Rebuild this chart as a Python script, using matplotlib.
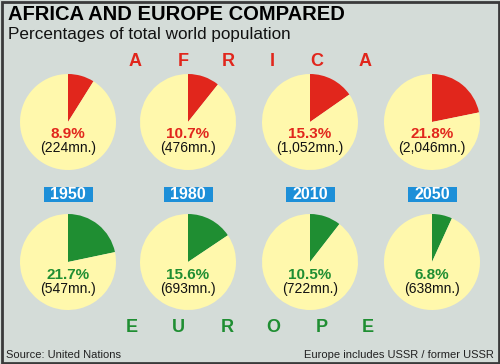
import matplotlib
matplotlib.use("Agg")
import matplotlib.pyplot as plt
from matplotlib.patches import Rectangle

# data
years = ["1950", "1980", "2010", "2050"]
africa_pct = [8.9, 10.7, 15.3, 21.8]
africa_mn = ["224", "476", "1,052", "2,046"]
europe_pct = [21.7, 15.6, 10.5, 6.8]
europe_mn = ["547", "693", "722", "638"]

W, H = 500, 364
BG = "#d4dcd8"
YELLOW = "#fff8ac"
RED = "#e1261c"
GREEN = "#1f8e32"
BLUE = "#1d8fd8"
FONT = "Liberation Sans"

fig = plt.figure(figsize=(5, 3.64), dpi=100)
fig.patch.set_facecolor(BG)
ax = fig.add_axes([0, 0, 1, 1])

def Y(y):
    # pixel row from the top -> data y (upwards)
    return H - y

xs = [68, 188, 310, 432]
r = 48

for i, yr in enumerate(years):
    cx = xs[i]
    # africa pie
    ax.pie([africa_pct[i], 100 - africa_pct[i]], colors=[RED, YELLOW],
           startangle=90, counterclock=False, center=(cx, Y(122)), radius=r,
           wedgeprops=dict(linewidth=0))
    ax.text(cx, Y(134), f"{africa_pct[i]}%", color=RED, fontsize=11,
            fontweight="bold", family=FONT, ha="center", va="center")
    ax.text(cx, Y(148), f"({africa_mn[i]}mn.)", color="#111111", fontsize=10,
            family=FONT, ha="center", va="center")
    # europe pie
    ax.pie([europe_pct[i], 100 - europe_pct[i]], colors=[GREEN, YELLOW],
           startangle=90, counterclock=False, center=(cx, Y(262)), radius=r,
           wedgeprops=dict(linewidth=0))
    ax.text(cx, Y(275), f"{europe_pct[i]}%", color=GREEN, fontsize=11,
            fontweight="bold", family=FONT, ha="center", va="center")
    ax.text(cx, Y(289), f"({europe_mn[i]}mn.)", color="#111111", fontsize=10,
            family=FONT, ha="center", va="center")
    # year box
    ax.add_patch(Rectangle((cx - 24.5, Y(202)), 49, 15, facecolor=BLUE,
                           edgecolor="none"))
    ax.text(cx, Y(194.5), yr, color="white", fontsize=11.5, fontweight="bold",
            family=FONT, ha="center", va="center")

# spaced continent names
africa_x = [135, 183, 228, 272, 317, 365]
for ch, x in zip("AFRICA", africa_x):
    ax.text(x, Y(61), ch, color=RED, fontsize=13, fontweight="bold",
            family=FONT, ha="center", va="center")
europe_x = [132, 178, 227, 273, 322, 368]
for ch, x in zip("EUROPE", europe_x):
    ax.text(x, Y(327), ch, color=GREEN, fontsize=13, fontweight="bold",
            family=FONT, ha="center", va="center")

ax.text(8, Y(15), "AFRICA AND EUROPE COMPARED", fontsize=14.5, fontweight="bold",
        family=FONT, ha="left", va="center", color="black")
ax.text(8, Y(34), "Percentages of total world population", fontsize=12.3,
        family=FONT, ha="left", va="center", color="#111111")
ax.text(6, Y(355), "Source: United Nations", fontsize=8, family=FONT,
        ha="left", va="center", color="#222222")
ax.text(494, Y(355), "Europe includes USSR / former USSR", fontsize=8,
        family=FONT, ha="right", va="center", color="#222222")

# frame
ax.add_patch(Rectangle((1.5, 1.5), W - 3, H - 3, facecolor="none",
                       edgecolor="#3a3a3a", linewidth=2))

ax.set_xlim(0, W)
ax.set_ylim(0, H)
ax.set_aspect("auto")
ax.axis("off")

fig.savefig("out.png", dpi=100, facecolor=BG)
